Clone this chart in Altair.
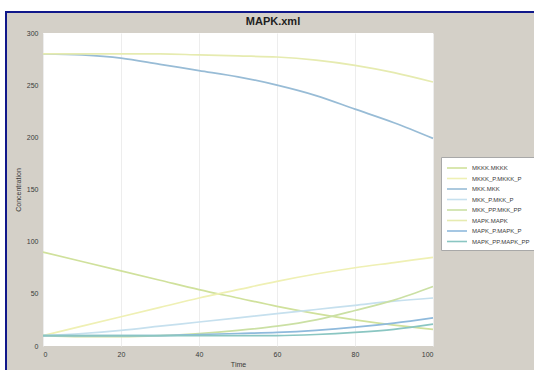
import altair as alt
import pandas as pd

# Simulated MAPK cascade (Kholodenko-type model), amounts over time
time = [0, 10, 20, 30, 40, 50, 60, 70, 80, 90, 100]

mkkk = [90, 81, 72, 63, 54, 46, 38, 31, 25, 20, 16]
mkkk_p = [10, 19, 28, 37, 46, 54, 62, 69, 75, 80, 85]
mkk = [280, 279, 276, 270, 264, 258, 250, 240, 227, 214, 199]
mkk_p = [10, 12, 15, 19, 23, 27, 31, 35, 39, 43, 46]
mkk_pp = [10, 9, 9, 10, 12, 15, 19, 25, 34, 44, 57]
mapk = [280, 280, 280, 280, 279, 278, 277, 274, 269, 262, 253]
mapk_p = [10, 10, 10, 10, 11, 12, 13, 15, 18, 22, 27]
mapk_pp = [10, 10, 10, 10, 10, 10, 10, 11, 13, 16, 21]

series_names = [
    "MKKK.MKKK", "MKKK_P.MKKK_P", "MKK.MKK", "MKK_P.MKK_P",
    "MKK_PP.MKK_PP", "MAPK.MAPK", "MAPK_P.MAPK_P", "MAPK_PP.MAPK_PP",
]
series_values = [mkkk, mkkk_p, mkk, mkk_p, mkk_pp, mapk, mapk_p, mapk_pp]
series_colors = [
    "#d0e19c", "#eff0b4", "#98bcd6", "#c6e0ee",
    "#cbe0a4", "#e6ebb0", "#8fbadc", "#8ac6c2",
]

x_ticks = [0, 20, 40, 60, 80, 100]
y_ticks = [0, 50, 100, 150, 200, 250, 300]

rows = []
for name, vals in zip(series_names, series_values):
    for t, v in zip(time, vals):
        rows.append({"Time": t, "value": v, "species": name})
df = pd.DataFrame(rows)

label_color = "#3a3a3a"

lines = alt.Chart(df).mark_line(strokeWidth=1.7, interpolate="monotone").encode(
    x=alt.X(
        "Time:Q",
        scale=alt.Scale(domain=[0, 100], nice=False),
        axis=alt.Axis(
            values=x_ticks, title="Time", grid=True, gridColor="#ededed",
            ticks=False, domain=False, labelFontSize=7, labelColor=label_color,
            labelPadding=4, titleFontSize=7, titleColor=label_color,
            titleFontWeight="normal", titlePadding=3,
        ),
    ),
    y=alt.Y(
        "value:Q",
        scale=alt.Scale(domain=[0, 300], nice=False),
        axis=alt.Axis(
            values=y_ticks, title="Concentration", grid=False,
            ticks=False, domain=False, labelFontSize=7, labelColor=label_color,
            labelPadding=5, titleFontSize=7, titleColor=label_color,
            titleFontWeight="normal", titlePadding=5,
        ),
    ),
    color=alt.Color(
        "species:N",
        sort=series_names,
        scale=alt.Scale(domain=series_names, range=series_colors),
        legend=alt.Legend(
            title=None, orient="none", legendX=398, legendY=124,
            symbolType="M-1,0H3", symbolSize=100, symbolStrokeWidth=1.6,
            labelFontSize=6, labelColor=label_color, labelOffset=14,
            fillColor="#ffffff", strokeColor="#a8a8a8", padding=5,
            rowPadding=0.5, labelLimit=200,
        ),
    ),
)

# figure title
title = alt.Chart(pd.DataFrame({"label": ["MAPK.xml"]})).mark_text(
    fontSize=11, fontWeight="bold", color="#1e1e1e", baseline="middle", align="center"
).encode(x=alt.value(230), y=alt.value(-11), text="label:N")

# window frame: white margin and dark blue edge at top and left
frame = pd.DataFrame({"k": [0]})
white_top = alt.Chart(frame).mark_rect(color="white").encode(
    x=alt.value(-43), x2=alt.value(491), y=alt.value(-33), y2=alt.value(-22))
white_left = alt.Chart(frame).mark_rect(color="white").encode(
    x=alt.value(-43), x2=alt.value(-38), y=alt.value(-33), y2=alt.value(337))
blue_top = alt.Chart(frame).mark_rect(color="#10188a").encode(
    x=alt.value(-38), x2=alt.value(491), y=alt.value(-22), y2=alt.value(-20))
blue_left = alt.Chart(frame).mark_rect(color="#10188a").encode(
    x=alt.value(-38), x2=alt.value(-36), y=alt.value(-22), y2=alt.value(337))

chart = alt.layer(lines, title, white_top, white_left, blue_top, blue_left).properties(
    width=390,
    height=313,
    autosize=alt.AutoSizeParams(type="none"),
    padding={"left": 43, "top": 33, "right": 101, "bottom": 24},
    background="#d4d0c8",
    view=alt.ViewBackground(fill="white", strokeWidth=0),
).configure_view(
    fill="white", strokeWidth=0
).configure(
    font="Liberation Sans"
)

chart.save("out.html", embed_options={"renderer": "svg", "actions": False})
